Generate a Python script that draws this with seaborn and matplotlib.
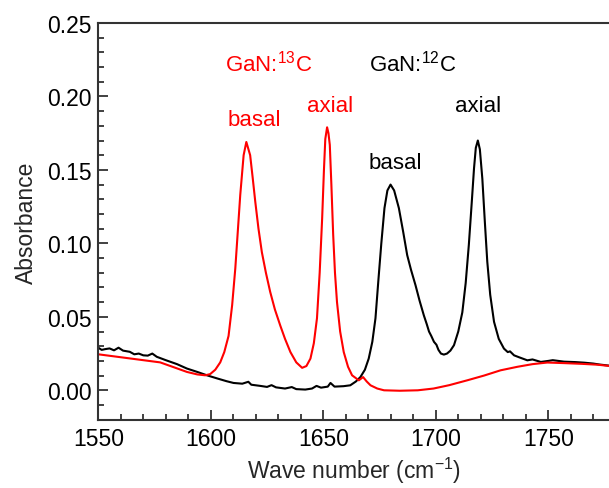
import matplotlib
matplotlib.use('Agg')
import matplotlib.pyplot as plt
import numpy as np
import pandas as pd
import seaborn as sns
from matplotlib.ticker import MultipleLocator

# GaN:13C spectrum (red)
wn_13c = [1550, 1560, 1570, 1577.5, 1583, 1589.4, 1594, 1597.5, 1599.7, 1602, 1604.2, 1606,
          1607.9, 1609.5, 1610.9, 1612, 1613.1, 1614.6, 1615.8, 1617.5, 1618.6, 1619.8, 1621.2,
          1622.7, 1624.5, 1626.4, 1628.5, 1630.9, 1633, 1635.4, 1638, 1640.6, 1642.5, 1644.3,
          1645.8, 1647.2, 1648.4, 1649.5, 1650.3, 1650.9, 1651.7, 1652.3, 1652.9, 1653.6, 1654.4,
          1655.2, 1656.1, 1657.5, 1659.1, 1661, 1662.8, 1665.8, 1667.7, 1669.3, 1671, 1674, 1677,
          1684, 1692, 1699, 1706, 1714, 1721.4, 1728.8, 1736.3, 1743, 1749.6, 1757, 1765, 1772, 1777]
abs_13c = [0.0245, 0.0225, 0.0205, 0.019, 0.016, 0.0125, 0.0108, 0.0102, 0.011, 0.014, 0.019, 0.026,
           0.037, 0.058, 0.083, 0.108, 0.133, 0.160, 0.169, 0.160, 0.145, 0.128, 0.110,
           0.094, 0.080, 0.067, 0.055, 0.044, 0.035, 0.026, 0.019, 0.0153, 0.0165, 0.0216,
           0.032, 0.049, 0.080, 0.117, 0.150, 0.171, 0.179, 0.175, 0.167, 0.140, 0.106,
           0.080, 0.060, 0.040, 0.026, 0.016, 0.0102, 0.0068, 0.009, 0.006, 0.0034, 0.0012, 0.0,
           -0.0003, 0.0, 0.0012, 0.0035, 0.0068, 0.010, 0.0136, 0.016, 0.0178, 0.0189, 0.0185,
           0.0180, 0.0174, 0.0166]

# GaN:12C spectrum (black)
wn_12c = [1550, 1551.5, 1553, 1555, 1557, 1559, 1561, 1564, 1566, 1568, 1570, 1572, 1574, 1576,
          1580, 1585, 1589.4, 1594, 1598.3, 1603, 1607, 1610.1, 1614, 1616.7, 1618, 1622, 1625,
          1627, 1629, 1633, 1636, 1638, 1642, 1645, 1647, 1649, 1652, 1653.2, 1655, 1659, 1662,
          1664.5, 1666.5, 1668.5, 1670.2, 1671.8, 1673.2, 1674.5, 1675.8, 1677.2, 1678.5, 1679.9,
          1681.5, 1683.6, 1685.5, 1687.3, 1689, 1691, 1692.8, 1694.7, 1696, 1697, 1698, 1699.2,
          1700.3, 1701.2, 1702.3, 1703.6, 1705, 1706.5, 1708.1, 1710, 1711.8, 1713.3, 1714.7,
          1716, 1717, 1717.8, 1718.7, 1719.6, 1720.7, 1721.8, 1722.9, 1724.2, 1725.9, 1728,
          1730.3, 1732, 1733, 1734.8, 1737, 1740.7, 1743, 1746.7, 1750, 1752, 1757, 1762, 1766,
          1770, 1773, 1777]
abs_12c = [0.0290, 0.0275, 0.0280, 0.0285, 0.0272, 0.0290, 0.0270, 0.0262, 0.0245, 0.0250, 0.0238,
           0.0236, 0.0250, 0.0228, 0.0205, 0.0178, 0.0148, 0.0125, 0.0102, 0.0080, 0.0062, 0.0050,
           0.0045, 0.0058, 0.0038, 0.0030, 0.0023, 0.0035, 0.0020, 0.0012, 0.0022, 0.0008, 0.0005,
           0.0012, 0.0030, 0.0018, 0.0025, 0.0050, 0.0025, 0.0028, 0.0034, 0.0060, 0.0090, 0.014,
           0.0216, 0.033, 0.049, 0.075, 0.100, 0.124, 0.136, 0.140, 0.136, 0.124, 0.108, 0.092,
           0.082, 0.0715, 0.061, 0.051, 0.045, 0.040, 0.037, 0.033, 0.031, 0.0275, 0.025, 0.0243,
           0.025, 0.027, 0.0307, 0.040, 0.053, 0.073, 0.099, 0.128, 0.151, 0.165, 0.170, 0.164,
           0.144, 0.115, 0.0875, 0.065, 0.0466, 0.035, 0.0284, 0.026, 0.0265, 0.0238, 0.0225,
           0.0204, 0.0210, 0.0193, 0.0200, 0.0205, 0.0195, 0.0192, 0.0188, 0.0182, 0.0175, 0.0168]

spec_13c = pd.DataFrame({'wn': wn_13c, 'A': abs_13c})
spec_12c = pd.DataFrame({'wn': wn_12c, 'A': abs_12c})

sns.set_style('ticks')
plt.rcParams['font.family'] = ['Liberation Sans', 'DejaVu Sans']
plt.rcParams['mathtext.fontset'] = 'custom'
plt.rcParams['mathtext.rm'] = 'Liberation Sans'
plt.rcParams['mathtext.it'] = 'Liberation Sans'

fig = plt.figure(figsize=(6.09, 4.89), dpi=100)
ax = fig.add_axes([0.1614, 0.1397, 0.8386, 0.8113])

sns.lineplot(data=spec_12c, x='wn', y='A', color='black', lw=1.5, sort=False, ax=ax)
sns.lineplot(data=spec_13c, x='wn', y='A', color='#ff0000', lw=1.5, sort=False, ax=ax)

ax.set_xlim(1550, 1777)
ax.set_ylim(-0.02, 0.25)
ax.xaxis.set_major_locator(MultipleLocator(50))
ax.xaxis.set_minor_locator(MultipleLocator(10))
ax.yaxis.set_major_locator(MultipleLocator(0.05))
ax.yaxis.set_minor_locator(MultipleLocator(0.01))
ax.yaxis.set_major_formatter(matplotlib.ticker.FormatStrFormatter('%.2f'))
ax.tick_params(which='major', direction='in', length=7, width=1.3, labelsize=16.5, colors='#333333',
               labelcolor='black', pad=5)
ax.tick_params(which='minor', direction='in', length=4, width=1.3, colors='#333333')
for side in ['left', 'bottom', 'top']:
    ax.spines[side].set_linewidth(1.5)
    ax.spines[side].set_color('#333333')
ax.spines['right'].set_visible(False)

ax.set_xlabel('Wave number (cm$^{\\mathrm{-1}}$)', fontsize=16.5, labelpad=4)
ax.set_ylabel('Absorbance', fontsize=16.5, labelpad=6)

ax.text(1625.6, 0.223, 'GaN:$^{13}$C', color='#ff0000', fontsize=16, ha='center', va='center')
ax.text(1689.5, 0.223, 'GaN:$^{12}$C', color='black', fontsize=16, ha='center', va='center')
ax.text(1619.3, 0.184, 'basal', color='#ff0000', fontsize=16, ha='center', va='center')
ax.text(1653.2, 0.194, 'axial', color='#ff0000', fontsize=16, ha='center', va='center')
ax.text(1682, 0.155, 'basal', color='black', fontsize=16, ha='center', va='center')
ax.text(1718.6, 0.194, 'axial', color='black', fontsize=16, ha='center', va='center')

fig.savefig('out.png', dpi=100)
